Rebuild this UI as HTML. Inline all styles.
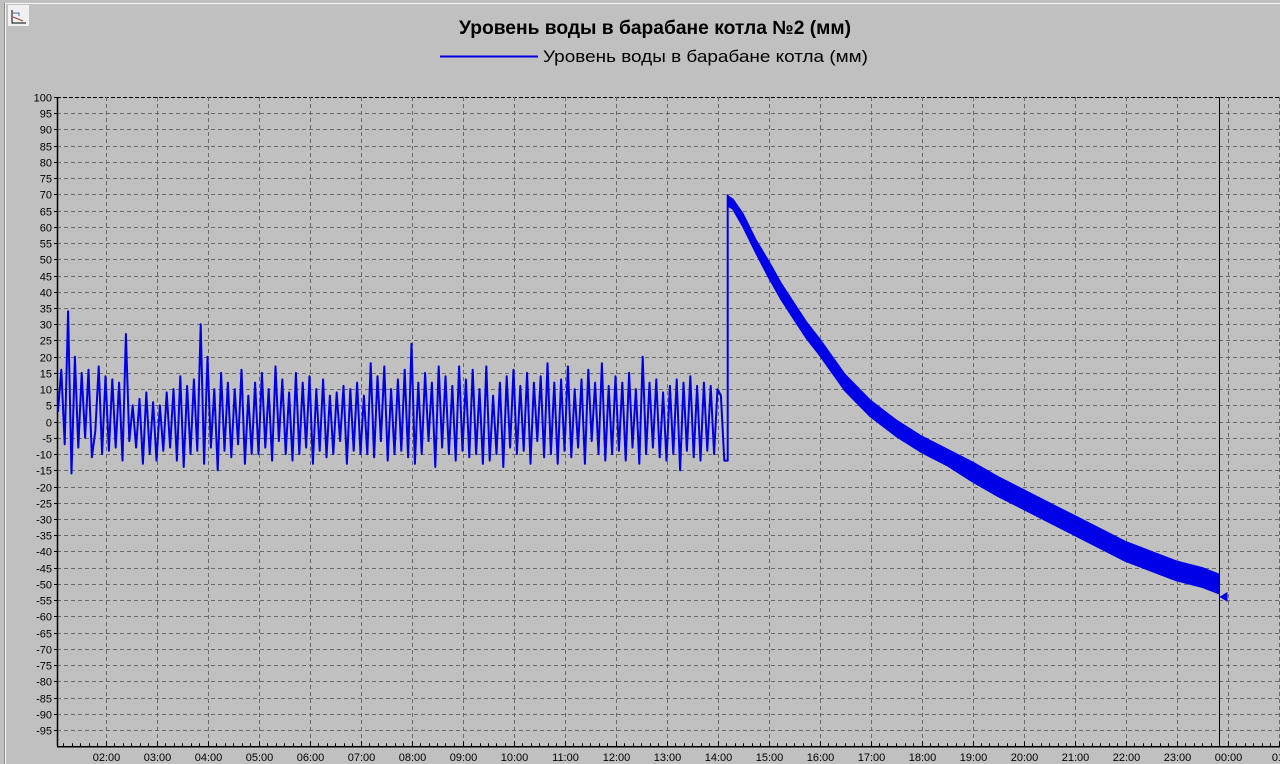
<!DOCTYPE html>
<html><head><meta charset="utf-8">
<style>
html,body{margin:0;padding:0;background:#c0c0c0;}
body{width:1280px;height:764px;overflow:hidden;position:relative;font-family:"Liberation Sans",sans-serif;}
svg{position:absolute;left:0;top:0;}
</style></head>
<body>
<svg id="chart" width="1280" height="764">
  <rect x="0" y="0" width="1280" height="764" fill="#c0c0c0"/>
  <line x1="5.5" y1="4" x2="5.5" y2="764" stroke="#f4f4f4" stroke-width="1"/>
  <line x1="5" y1="3.5" x2="1280" y2="3.5" stroke="#f4f4f4" stroke-width="1"/>
  <line x1="4.5" y1="3" x2="4.5" y2="764" stroke="#8a8a8a"/>
  <g>
    <rect x="8" y="5" width="21" height="21" fill="#f0f0f0"/>
    <path d="M12 10 V23 H26" stroke="#000" fill="none"/>
    <path d="M13 13 H19 V16" stroke="#3a6fa8" fill="none"/>
    <path d="M13 17 L18 19 L23 21" stroke="#a04030" fill="none"/>
  </g>
  <text x="459" y="34" textLength="392" lengthAdjust="spacingAndGlyphs" font-size="19" font-weight="bold" fill="#000">Уровень воды в барабане котла №2 (мм)</text>
  <g>
    <line x1="440" y1="56.5" x2="538" y2="56.5" stroke="#0000e0" stroke-width="2"/>
    <text x="543" y="62" textLength="325" lengthAdjust="spacingAndGlyphs" font-size="17" fill="#000">Уровень воды в барабане котла (мм)</text>
  </g>
  <g id="grid"></g>
  <g id="axes"></g>
  <g id="series"></g>
</svg>
<script>
// ---- data ----
const yTicks = [100,95,90,85,80,75,70,65,60,55,50,45,40,35,30,25,20,15,10,5,0,-5,-10,-15,-20,-25,-30,-35,-40,-45,-50,-55,-60,-65,-70,-75,-80,-85,-90,-95];
const xTickHours = [2,3,4,5,6,7,8,9,10,11,12,13,14,15,16,17,18,19,20,21,22,23,24,25];
const xTickLabels = ["02:00","03:00","04:00","05:00","06:00","07:00","08:00","09:00","10:00","11:00","12:00","13:00","14:00","15:00","16:00","17:00","18:00","19:00","20:00","21:00","22:00","23:00","00:00","01:"];
// oscillation extremes, one every 4 minutes starting 01:04
const oscStartHour = 1 + 4/60;
const oscStepMin = 4;
const oscValues = [
 3,16,-7,34,-16,20,-8,15,-5,16,-11,-3,17,-10,14,
 -9,13,-8,12,-12,27,-6,5,-8,7,-13,9,-10,6,-12,
 5,-9,9,-8,10,-12,14,-14,11,-10,13,-9,30,-13,20,
 -8,10,-15,15,-9,12,-11,10,-7,16,-13,8,-10,12,-10,
 15,-8,10,-12,17,-6,13,-10,9,-12,15,-10,12,-8,14,
 -13,10,-9,13,-11,8,-10,9,-6,11,-13,10,-9,12,-10,
 8,-10,18,-11,14,-6,17,-12,10,-10,13,-9,16,-11,24,
 -13,12,-10,15,-6,12,-14,17,-8,14,-10,11,-12,17,-9,
 13,-11,16,-10,10,-13,17,-12,8,-10,12,-14,14,-8,16,
 -10,11,-9,15,-13,12,-6,14,-11,18,-10,12,-13,13,-9,
 17,-11,10,-8,13,-13,16,-6,12,-10,18,-12,11,-10,14,
 -9,12,-12,15,-8,10,-13,20,-10,12,-8,13,-11,9,-12,
 11,-10,13,-15,12,-9,14,-11,11,-12,12,-9,11,-10,10,
 8,-12
];
// decay band after the jump
const decayHours = [14.2,14.3,14.5,14.75,15,15.25,15.5,15.75,16,16.5,17,17.5,18,18.5,19,19.5,20,20.5,21,21.5,22,22.5,23,23.5,23.83];
const decayCenter = [68,67,62,54,47,40,34,28,23,12,4,-2,-7,-11,-15.5,-20,-24,-28,-32,-36,-40,-43,-46,-48,-50];
const decayHalfWidth = [1.5,1.5,2,2,2.5,2.5,2.5,2.5,2.5,2.5,2.5,2.5,2.5,2.5,3,3,3,3,3,3,3,3,3,3,3];
const cursorHour = 23.83;
const lastValue = -54;

// ---- axes ----
const X0 = 57, Y100 = 97, PXU = 3.246, PXH = 51, H2 = 105.5;
const xs = h => H2 + (h - 2) * PXH;
const ys = v => Y100 + (100 - v) * PXU;
const NS = "http://www.w3.org/2000/svg";
function mk(tag, attrs, parent){const e=document.createElementNS(NS,tag);for(const k in attrs)e.setAttribute(k,attrs[k]);parent.appendChild(e);return e;}
const gridG = document.getElementById('grid'), axesG = document.getElementById('axes'), seriesG = document.getElementById('series');
const yBottom = ys(-100);

yTicks.forEach(v=>{
  const y = Math.round(ys(v))+0.5;
  if (v !== 100) {
    const l = mk('line',{x1:X0,y1:y,x2:1280,y2:y,stroke:'#6a6a6a','stroke-dasharray':'4,3'},gridG);
    
    
  }
  const t = mk('text',{x:52,y:y+4,'text-anchor':'end','font-size':'11',fill:'#000'},axesG);
  t.textContent = v;
  
  
  const tk = mk('line',{x1:X0-3,y1:y,x2:X0,y2:y,stroke:'#000'},axesG);
  
  
});
const topBorder = mk('line',{x1:X0,y1:Y100+0.5,x2:1280,y2:Y100+0.5,stroke:'#000','stroke-dasharray':'4,2'},gridG);



xTickHours.forEach((h,i)=>{
  const x = Math.round(xs(h))+0.5;
  const l = mk('line',{x1:x,y1:Y100,x2:x,y2:yBottom,stroke:'#6a6a6a','stroke-dasharray':'4,3'},gridG);
  
  
  const t = mk('text',{x:x,y:761,'text-anchor':'middle','font-size':'11',fill:'#000'},axesG);
  t.textContent = xTickLabels[i];
  
  
});
for (let m = 70; m <= 25*60; m += 10) {
  const x = Math.round(xs(m/60))+0.5;
  if (x < X0 || x > 1280) continue;
  const tk = mk('line',{x1:x,y1:yBottom-(m%60===0?5:3),x2:x,y2:yBottom,stroke:'#000'},axesG);
  
  
}
const ya = mk('line',{x1:X0+0.5,y1:Y100,x2:X0+0.5,y2:yBottom,stroke:'#000','stroke-width':1.5},axesG);


const xa = mk('line',{x1:X0,y1:yBottom+0.5,x2:1280,y2:yBottom+0.5,stroke:'#000','stroke-width':1.5},axesG);



// ---- series ----
let pts = oscValues.map((v,i)=>[xs(oscStartHour + i*oscStepMin/60), ys(v)]);
const jumpX = xs(decayHours[0]);
pts.push([jumpX, ys(oscValues[oscValues.length-1])]);
pts.push([jumpX, ys(decayCenter[0]+2)]);
const osc = mk('polyline',{points:pts.map(p=>p[0].toFixed(1)+','+p[1].toFixed(1)).join(' '),fill:'none',stroke:'#0000e6','stroke-width':2,'stroke-linejoin':'round'},seriesG);



const upper = decayHours.map((h,i)=>[xs(h), ys(decayCenter[i]+decayHalfWidth[i])]);
const lower = decayHours.map((h,i)=>[xs(h), ys(decayCenter[i]-decayHalfWidth[i])]).reverse();
const band = mk('polygon',{points:upper.concat(lower).map(p=>p[0].toFixed(1)+','+p[1].toFixed(1)).join(' '),fill:'#0000e6',stroke:'#0000e6','stroke-width':1.5,'stroke-linejoin':'round'},seriesG);



const cx = Math.round(xs(cursorHour))+0.5;
const cur = mk('line',{x1:cx,y1:Y100,x2:cx,y2:yBottom,stroke:'#000','stroke-width':1},seriesG);


const my = ys(lastValue);
const mark = mk('polygon',{points:`${cx},${my} ${cx+8},${my-5} ${cx+8},${my+5}`,fill:'#0000e6'},seriesG);


</script>
</body></html>
